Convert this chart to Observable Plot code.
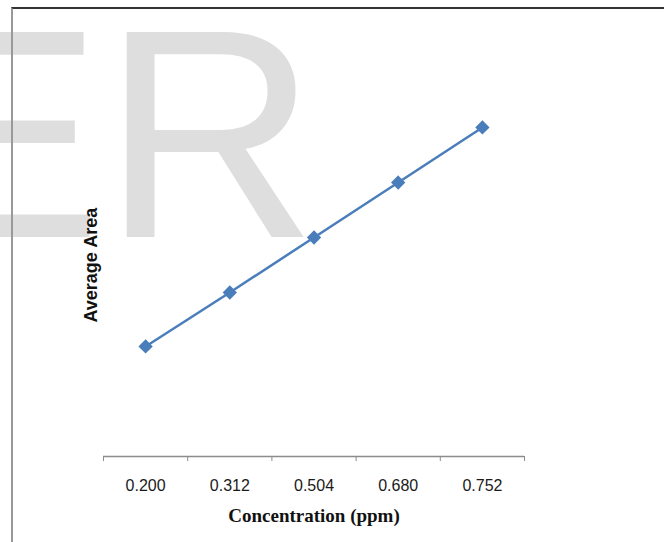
<!DOCTYPE html>
<html>
<head>
<meta charset="utf-8">
<script src="https://cdn.jsdelivr.net/npm/d3@7"></script>
<script src="https://cdn.jsdelivr.net/npm/@observablehq/plot@0.6"></script>
<style>
  html, body { margin: 0; padding: 0; background: #fff; }
  #wrap { position: relative; width: 664px; height: 542px; overflow: hidden; }
  #frame { position: absolute; left: 11px; top: 7px; right: -4px; bottom: -4px;
           border-top: 2px solid #333; border-left: 2px solid #999; pointer-events: none; }
</style>
</head>
<body>
<div id="wrap"><div id="frame"></div></div>
<script>
const concentrations = ["0.200", "0.312", "0.504", "0.680", "0.752"];
const averageArea = [1005, 1498, 2000, 2502, 3005];
const yAxisTitle = "Average Area";
const xAxisTitle = "Concentration (ppm)";
const watermark = "ER";

const data = concentrations.map((c, i) => ({i, c, area: averageArea[i]}));
const idx = concentrations.map((_, i) => i);
const boundaries = concentrations.map((_, i) => i - 0.5).concat([concentrations.length - 0.5]);

const chart = Plot.plot({
  width: 664, height: 542,
  marginLeft: 103, marginRight: 140, marginTop: 18, marginBottom: 86,
  style: {background: "transparent", fontFamily: "'Liberation Sans', Arial, sans-serif", overflow: "hidden"},
  x: {type: "linear", domain: [-0.5, concentrations.length - 0.5]},
  y: {domain: [0, 4000], axis: null},
  marks: [
    Plot.text([watermark], {frameAnchor: "top-left", textAnchor: "start", lineAnchor: "top",
      fontSize: 298, fill: "#dedede", dx: -200, dy: 7, fontFamily: "'Liberation Sans', Arial, sans-serif"}),
    Plot.ruleY([0], {stroke: "#8c8c8c", strokeWidth: 1.5}),
    Plot.axisX({ticks: boundaries, tickSize: 5, tickFormat: () => "", stroke: "#8c8c8c", label: null}),
    Plot.axisX({ticks: idx, tickSize: 0, tickPadding: 23, tickFormat: i => concentrations[i],
      fontSize: 16, fill: "#1a1a1a", label: null}),
    Plot.line(data, {x: "i", y: "area", stroke: "#4a7ebb", strokeWidth: 2.5}),
    Plot.dot(data, {x: "i", y: "area", symbol: "diamond2", r: 5.5, fill: "#4a7ebb", stroke: "#4a7ebb"}),
    Plot.text([yAxisTitle], {frameAnchor: "left", rotate: -90, dx: -12, dy: 85,
      fontWeight: "bold", fontSize: 18, fill: "#111"}),
    Plot.text([xAxisTitle], {frameAnchor: "bottom", dy: 65, fontFamily: "'Liberation Serif', 'Times New Roman', serif",
      fontWeight: "bold", fontSize: 19, fill: "#111"})
  ]
});
chart.style.position = "absolute";
chart.style.left = "0";
chart.style.top = "0";
document.getElementById("wrap").insertBefore(chart, document.getElementById("frame"));
</script>
</body>
</html>
